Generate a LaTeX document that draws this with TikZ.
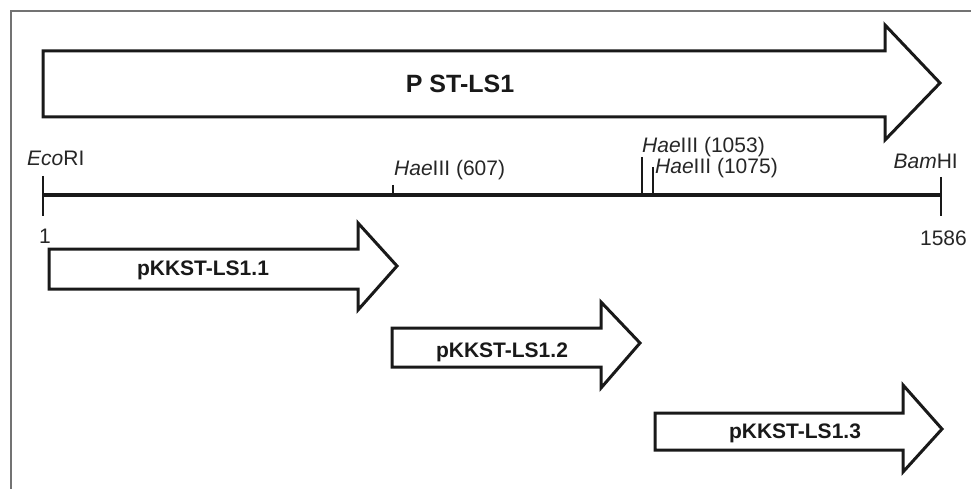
\documentclass[tikz,border=0pt]{standalone}
\usepackage{fontspec}
\setmainfont{Liberation Sans}
\begin{document}
\begin{tikzpicture}[x=1pt,y=-1pt,
  frameline/.style={draw=black!55,line width=1.5pt},
  boxarrow/.style={draw=black!90,line width=3pt,line join=miter,fill=white},
  axisline/.style={draw=black!90,line width=3pt},
  tickline/.style={draw=black!90,line width=1.6pt},
  sitelabel/.style={inner sep=0pt,font=\fontsize{21}{24}\selectfont,text=black!85},
  arrowlabel/.style={inner sep=0pt,font=\fontsize{21}{24}\selectfont\bfseries,text=black!90},
  titlelabel/.style={inner sep=0pt,font=\fontsize{25}{30}\selectfont\bfseries,text=black!90}]
\useasboundingbox (0,0) rectangle (971,489);
% frame
\draw[frameline] (11,489) -- (11,11) -- (971,11);
% big arrow
\path[boxarrow] (43,51) -- (885,51) -- (885,25) -- (940,83) -- (885,140) -- (885,117) -- (43,117) -- cycle;
\node[titlelabel] (title) at (460,84) {P ST-LS1};
% axis
\coordinate (a0) at (43,195);
\coordinate (a1) at (941,195);
\draw[axisline] (a0) -- (a1);
\draw[tickline] (43,176) -- (43,216);
\draw[tickline] (941,177) -- (941,216);
\draw[tickline] (393,185) -- (393,195);
\draw[tickline] (642,157) -- (642,195);
\draw[tickline] (653,167) -- (653,195);
% site labels
\node[sitelabel,anchor=base west] (eco) at (27,166) {\textit{Eco}RI};
\node[sitelabel,anchor=base west] (h607) at (394,176) {\textit{Hae}III (607)};
\node[sitelabel,anchor=base west] (h1053) at (642,153) {\textit{Hae}III (1053)};
\node[sitelabel,anchor=base west] (h1075) at (655,174) {\textit{Hae}III (1075)};
\node[sitelabel,anchor=base east] (bam) at (958,169) {\textit{Bam}HI};
\node[sitelabel,anchor=base] (n1) at (45,243) {1};
\node[sitelabel,anchor=base east] (n1586) at (967,245) {1586};
% fragment arrows
\path[boxarrow] (49,249) -- (358,249) -- (358,223) -- (397,266) -- (358,310) -- (358,289) -- (49,289) -- cycle;
\node[arrowlabel] (f1) at (203,270) {pKKST-LS1.1};
\path[boxarrow] (392,328) -- (601,328) -- (601,302) -- (640,343) -- (601,388) -- (601,367) -- (392,367) -- cycle;
\node[arrowlabel] (f2) at (502,352) {pKKST-LS1.2};
\path[boxarrow] (655,413) -- (903,413) -- (903,385) -- (942,429) -- (903,472) -- (903,450) -- (655,450) -- cycle;
\node[arrowlabel] (f3) at (795,433) {pKKST-LS1.3};
\end{tikzpicture}
\end{document}
